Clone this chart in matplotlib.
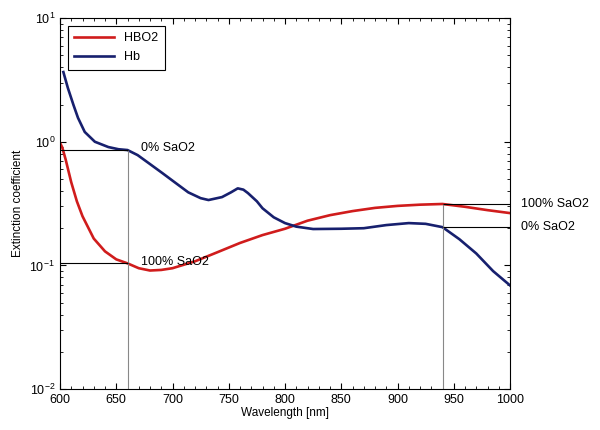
import matplotlib.pyplot as plt
from matplotlib.ticker import MultipleLocator, LogLocator

plt.rcParams['font.family'] = ['Liberation Sans', 'DejaVu Sans']

# curves (wavelength nm, extinction coefficient)
hbo2_wl = [600, 602, 605, 610, 615, 620, 630, 640, 650, 660, 670, 680, 690, 700,
           720, 740, 760, 780, 800, 820, 840, 860, 880, 900, 920, 940, 960, 980, 1000]
hbo2_val = [0.98, 0.9, 0.72, 0.47, 0.33, 0.25, 0.165, 0.13, 0.112, 0.104, 0.095, 0.091,
            0.092, 0.095, 0.108, 0.128, 0.152, 0.176, 0.198, 0.23, 0.255, 0.275, 0.292,
            0.303, 0.31, 0.314, 0.298, 0.28, 0.265]

hb_wl = [603, 607, 612, 616, 622, 631, 643, 652, 660, 669, 680, 691, 702, 714,
         725, 732, 744, 752, 758, 763, 767, 775, 780, 790, 800, 810, 825, 850, 870,
         890, 910, 925, 940, 955, 970, 985, 1000]
hb_val = [3.66, 2.72, 1.98, 1.56, 1.2, 1.0, 0.906, 0.87, 0.857, 0.78, 0.66, 0.558,
          0.47, 0.39, 0.35, 0.338, 0.357, 0.39, 0.42, 0.41, 0.385, 0.33, 0.29, 0.245,
          0.22, 0.206, 0.197, 0.198, 0.2, 0.212, 0.22, 0.217, 0.204, 0.163, 0.125,
          0.09, 0.069]

# marker wavelengths and the levels read at them
mark_wl = [660, 940]
level_660 = {'0% SaO2': 0.857, '100% SaO2': 0.104}
level_940 = {'100% SaO2': 0.314, '0% SaO2': 0.204}

fig = plt.figure(figsize=(6, 4.3), dpi=100)
ax = fig.add_axes([0.1, 0.095, 0.75, 0.863])

ax.plot(hbo2_wl, hbo2_val, color='#d01c1c', lw=1.9, label='HBO2')
ax.plot(hb_wl, hb_val, color='#17206e', lw=1.9, label='Hb')

# guide lines
ax.vlines(mark_wl[0], 0.01, max(level_660.values()), color='#888888', lw=0.8)
ax.vlines(mark_wl[1], 0.01, max(level_940.values()), color='#888888', lw=0.8)
for v in level_660.values():
    ax.hlines(v, 600, mark_wl[0], color='k', lw=0.8)
for v in level_940.values():
    ax.hlines(v, mark_wl[1], 1000, color='k', lw=0.8)

# labels
for name, v in level_660.items():
    ax.text(672, v * 1.03, name, fontsize=9, va='center', ha='left')
for name, v in level_940.items():
    ax.text(1010, v, name, fontsize=9, va='center', ha='left', clip_on=False)

ax.set_yscale('log')
ax.set_xlim(600, 1000)
ax.set_ylim(0.01, 10)
ax.xaxis.set_major_locator(MultipleLocator(50))
ax.xaxis.set_minor_locator(MultipleLocator(10))
ax.yaxis.set_major_locator(LogLocator(base=10, numticks=10))
ax.yaxis.set_minor_locator(LogLocator(base=10, subs=range(2, 10), numticks=20))
ax.tick_params(which='both', direction='in', top=True, right=True, labelsize=9)
ax.tick_params(which='major', length=4)
ax.tick_params(which='minor', length=2)

ax.set_xlabel('Wavelength [nm]', fontsize=8.5, labelpad=1)
ax.set_ylabel('Extinction coefficient', fontsize=8.5, labelpad=4)

leg = ax.legend(loc='upper left', fontsize=9, frameon=True, fancybox=False,
                edgecolor='k', framealpha=1, handlelength=3.2, borderaxespad=0.6,
                borderpad=0.55, labelspacing=0.55)
leg.get_frame().set_linewidth(0.8)

fig.savefig('out.png', dpi=100)
